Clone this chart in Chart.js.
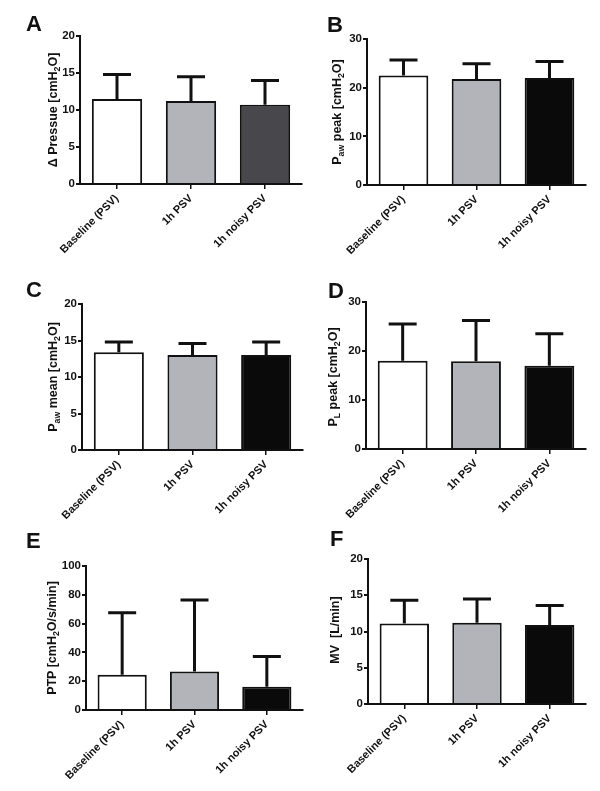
<!DOCTYPE html>
<html>
<head>
<meta charset="utf-8">
<script src="https://cdn.jsdelivr.net/npm/chart.js@4.4.1/dist/chart.umd.min.js"></script>
<style>
  html, body { margin: 0; padding: 0; background: #fff; }
  body { width: 600px; height: 791px; position: relative; overflow: hidden;
         font-family: "Liberation Sans", Arial, Helvetica, sans-serif; }
  canvas.panel { position: absolute; }
  .letter { position: absolute; font-weight: bold; font-size: 22px; line-height: 22px; color: #111; }
  .ytitle { position: absolute; font-weight: bold; font-size: 12.5px; color: #111; white-space: nowrap;
            transform: translate(-50%, -50%) rotate(-90deg); line-height: 14px; }
  .ytitle sub { font-size: 70%; vertical-align: -3px; line-height: 0; }
</style>
</head>
<body>
<script>
// ---------- data ----------
const categories = ["Baseline (PSV)", "1h PSV", "1h noisy PSV"];

const deltaPressureMean = [11.5, 11.2, 10.7];
const deltaPressureSD   = [3.3, 3.3, 3.3];

const pawPeakMean = [22.5, 21.8, 22.0];
const pawPeakSD   = [3.2, 3.1, 3.4];

const pawMeanMean = [13.4, 13.0, 13.0];
const pawMeanSD   = [1.4, 1.6, 1.8];

const plPeakMean = [18.0, 17.9, 17.0];
const plPeakSD   = [7.5, 8.3, 6.5];

const ptpMean = [24.5, 26.8, 16.1];
const ptpSD   = [43.1, 49.6, 21.0];

const mvMean = [11.1, 11.2, 10.9];
const mvSD   = [3.2, 3.3, 2.7];

const panelLetters = ["A", "B", "C", "D", "E", "F"];
const yMaxes  = [20, 30, 20, 30, 100, 20];
const ySteps  = [5, 10, 5, 10, 20, 5];
const yTitles = [
  "&Delta; Pressue [cmH<sub>2</sub>O]",
  "P<sub>aw</sub> peak [cmH<sub>2</sub>O]",
  "P<sub>aw</sub> mean [cmH<sub>2</sub>O]",
  "P<sub>L</sub> peak [cmH<sub>2</sub>O]",
  "PTP [cmH<sub>2</sub>O/s/min]",
  "MV&nbsp; [L/min]"
];
const panelMeans = [deltaPressureMean, pawPeakMean, pawMeanMean, plPeakMean, ptpMean, mvMean];
const panelSDs   = [deltaPressureSD, pawPeakSD, pawMeanSD, plPeakSD, ptpSD, mvSD];

// ---------- layout / style ----------
const plotRects = [
  {L: 80,  R: 302, T: 36,  B: 184},
  {L: 367, R: 586, T: 39,  B: 185},
  {L: 82,  R: 303, T: 304, B: 450},
  {L: 366, R: 586, T: 302, B: 449},
  {L: 86,  R: 303, T: 566, B: 710},
  {L: 368, R: 586, T: 559, B: 704}
];
const titlePos = [
  {x: 53, y: 110}, {x: 337, y: 112},
  {x: 53, y: 377}, {x: 333, y: 377},
  {x: 52, y: 638}, {x: 335, y: 630}
];
const letterPos = [
  {x: 26, y: 13}, {x: 327, y: 14},
  {x: 26, y: 279}, {x: 328, y: 280},
  {x: 26, y: 530}, {x: 330, y: 528}
];
const whiteFill = "#ffffff", grayFill = "#b3b4b9", darkFill = "#48484c", blackFill = "#0a0a0a";
const panelColors = [
  [whiteFill, grayFill, darkFill],
  [whiteFill, grayFill, blackFill],
  [whiteFill, grayFill, blackFill],
  [whiteFill, grayFill, blackFill],
  [whiteFill, grayFill, blackFill],
  [whiteFill, grayFill, blackFill]
];

const Y_AXIS_W = 40, X_AXIS_H = 80, PAD_TOP = 12, PAD_RIGHT = 6;
const FONT = "'Liberation Sans', Arial, Helvetica, sans-serif";

const errorBarPlugin = {
  id: "errorBars",
  afterDatasetsDraw(chart) {
    const sds = chart.options.plugins.errorBars.sd;
    const meta = chart.getDatasetMeta(0);
    const ys = chart.scales.y;
    const ctx = chart.ctx;
    ctx.save();
    ctx.strokeStyle = "#111";
    ctx.lineWidth = 3;
    ctx.lineCap = "butt";
    meta.data.forEach((bar, i) => {
      const v = chart.data.datasets[0].data[i];
      const yTop = ys.getPixelForValue(v + sds[i]);
      const yMean = ys.getPixelForValue(v);
      const half = 14;
      ctx.beginPath();
      ctx.moveTo(bar.x, yMean);
      ctx.lineTo(bar.x, yTop);
      ctx.moveTo(bar.x - half, yTop);
      ctx.lineTo(bar.x + half, yTop);
      ctx.stroke();
    });
    ctx.restore();
  }
};

for (let p = 0; p < 6; p++) {
  const r = plotRects[p];
  const cv = document.createElement("canvas");
  cv.className = "panel";
  const w = (r.R - r.L) + Y_AXIS_W + PAD_RIGHT;
  const h = (r.B - r.T) + PAD_TOP + X_AXIS_H;
  cv.style.left = (r.L - Y_AXIS_W) + "px";
  cv.style.top = (r.T - PAD_TOP) + "px";
  cv.style.width = w + "px";
  cv.style.height = h + "px";
  cv.width = w; cv.height = h;
  document.body.appendChild(cv);

  new Chart(cv, {
    type: "bar",
    data: {
      labels: categories,
      datasets: [{
        data: panelMeans[p],
        backgroundColor: panelColors[p],
        borderColor: "#111",
        borderWidth: 2,
        borderSkipped: "start",
        barPercentage: 0.68,
        categoryPercentage: 1.0
      }]
    },
    options: {
      responsive: false,
      animation: false,
      devicePixelRatio: 1,
      layout: { padding: { top: PAD_TOP, right: PAD_RIGHT, left: 0, bottom: 0 } },
      plugins: {
        legend: { display: false },
        tooltip: { enabled: false },
        errorBars: { sd: panelSDs[p] }
      },
      scales: {
        x: {
          offset: true,
          afterFit: (s) => { s.height = X_AXIS_H; },
          grid: { display: true, drawOnChartArea: false, drawTicks: true, offset: false,
                  tickLength: 5, color: "#111", lineWidth: 1.5 },
          border: { display: true, color: "#111", width: 2 },
          ticks: { color: "#111", minRotation: 45, maxRotation: 45, padding: 3,
                   font: { family: FONT, size: 11, weight: "bold" } }
        },
        y: {
          min: 0, max: yMaxes[p],
          afterFit: (s) => { s.width = Y_AXIS_W; },
          grid: { display: true, drawOnChartArea: false, drawTicks: true,
                  tickLength: 4, color: "#111", lineWidth: 2 },
          border: { display: true, color: "#111", width: 2 },
          ticks: { stepSize: ySteps[p], color: "#111", padding: 1,
                   font: { family: FONT, size: 11.5, weight: "bold" } }
        }
      }
    },
    plugins: [errorBarPlugin]
  });

  const t = document.createElement("div");
  t.className = "ytitle";
  t.innerHTML = yTitles[p];
  t.style.left = titlePos[p].x + "px";
  t.style.top = titlePos[p].y + "px";
  document.body.appendChild(t);

  const l = document.createElement("div");
  l.className = "letter";
  l.textContent = panelLetters[p];
  l.style.left = letterPos[p].x + "px";
  l.style.top = letterPos[p].y + "px";
  document.body.appendChild(l);
}
</script>
</body>
</html>
